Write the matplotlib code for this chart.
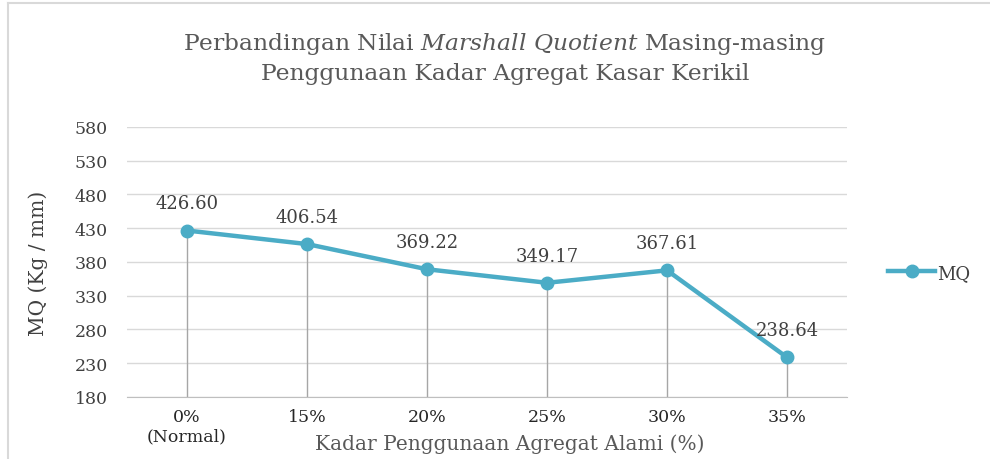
import numpy as np
import matplotlib
matplotlib.use('Agg')
import matplotlib.pyplot as plt
from matplotlib.lines import Line2D

plt.rcParams['font.family'] = 'DejaVu Serif'
plt.rcParams['mathtext.fontset'] = 'dejavuserif'

categories = ['0%\n(Normal)', '15%', '20%', '25%', '30%', '35%']
mq = [426.60, 406.54, 369.22, 349.17, 367.61, 238.64]
yticks = [180, 230, 280, 330, 380, 430, 480, 530, 580]

line_col = '#4BACC6'
text_col = '#404040'
title_col = '#595959'

fig = plt.figure(figsize=(9.9, 4.6), dpi=100)
ax = fig.add_axes([0.1283, 0.1348, 0.7273, 0.587])

x = np.arange(len(mq))

# grid
for v in yticks:
    ax.axhline(v, color='#D9D9D9', lw=1, zorder=0)

# drop lines
ax.vlines(x, yticks[0], mq, color='#A6A6A6', lw=1, zorder=1)

ax.plot(x, mq, color=line_col, lw=3.2, marker='o', markersize=9,
        label='MQ', zorder=3)

for xi, v in zip(x, mq):
    ax.annotate(f'{v:.2f}', (xi, v), xytext=(0, 13), textcoords='offset points',
                ha='center', va='bottom', fontsize=13, color=text_col)

ax.set_xlim(-0.5, len(mq) - 0.5)
ax.set_ylim(yticks[0], yticks[-1])
ax.set_xticks(x)
ax.set_xticklabels(categories, fontsize=12.5, color='#262626')
ax.set_yticks(yticks)
ax.set_yticklabels([str(t) for t in yticks], fontsize=12.5, color=text_col)
ax.tick_params(axis='both', length=0)
ax.tick_params(axis='x', pad=8)
ax.tick_params(axis='y', pad=14)
for s in ['top', 'right', 'left']:
    ax.spines[s].set_visible(False)
ax.spines['bottom'].set_color('#BFBFBF')

ax.set_ylabel('MQ (Kg / mm)', fontsize=14.5, color=text_col)
ax.yaxis.set_label_coords(-0.11, 0.5)
ax.set_xlabel('Kadar Penggunaan Agregat Alami (%)', fontsize=14.5,
              color=title_col)
ax.xaxis.set_label_coords(0.532, -0.135)

fig.text(0.51, 0.905, r'Perbandingan Nilai $\mathit{Marshall\ Quotient}$ Masing-masing',
         ha='center', va='center', fontsize=16.8, color=title_col)
fig.text(0.51, 0.84, 'Penggunaan Kadar Agregat Kasar Kerikil',
         ha='center', va='center', fontsize=16.8, color=title_col)

ax.legend(loc='center left', bbox_to_anchor=(1.035, 0.46), frameon=False,
          fontsize=13, handlelength=2.6, handletextpad=0.1,
          labelcolor=text_col)

# chart border
fig.add_artist(Line2D([8/990, 8/990], [0, 1 - 4/460], color='#D9D9D9', lw=1.5))
fig.add_artist(Line2D([8/990, 1], [1 - 4/460, 1 - 4/460], color='#D9D9D9', lw=1.5))

fig.savefig('out.png', dpi=100)
